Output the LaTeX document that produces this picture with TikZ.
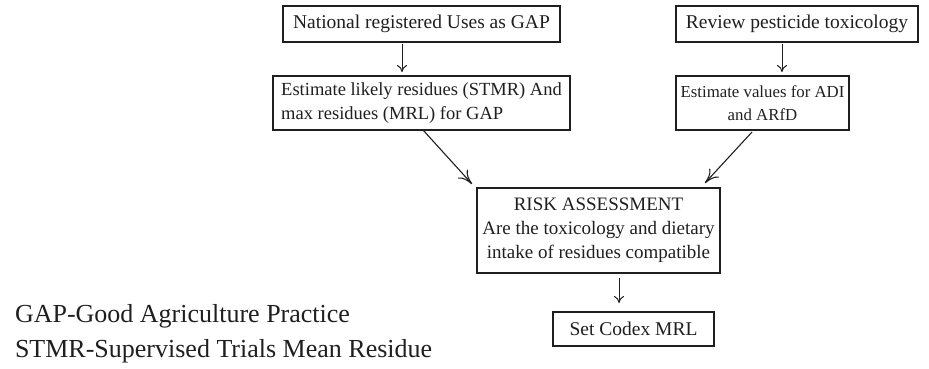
\documentclass[tikz,border=0pt]{standalone}
\usepackage{fontspec}
\setmainfont{Liberation Serif}
\usetikzlibrary{arrows.meta}
\definecolor{ink}{gray}{0.12}
\tikzstyle{base}=[x=1pt, y=-1pt, inner sep=0pt, outer sep=0pt]
\tikzstyle{box}=[draw=ink, line width=1.2pt, align=center, text=ink, font=\fontsize{19.5}{23.5}\selectfont]
\tikzstyle{link}=[-{To[length=7pt,width=10pt]}, ink, line width=1pt]
\tikzstyle{slant}=[-{To[length=14pt,width=13pt]}, ink, line width=1.1pt]
\tikzstyle{note}=[anchor=base west, text=ink, font=\fontsize{26}{30}\selectfont]

\begin{document}
\begin{tikzpicture}[base]
    \path [use as bounding box] (0,0) rectangle (929,368);
    % boxes
    \node [box, minimum width=277pt, minimum height=36pt] (nat) at (421.5,24) {National registered Uses as GAP};
    \node [box, minimum width=297pt, minimum height=54pt, align=left, font=\fontsize{18.5}{24}\selectfont] (est) at (421.5,103) {Estimate likely residues (STMR) And\\max residues (MRL) for GAP};
    \node [box, minimum width=242pt, minimum height=36pt] (rev) at (797,24) {Review pesticide toxicology};
    \node [box, minimum width=173pt, minimum height=54pt, font=\fontsize{16.8}{23}\selectfont] (val) at (762.5,103) {Estimate values for ADI\\and ARfD};
    \node [box, minimum width=243pt, minimum height=85pt, font=\fontsize{19}{24}\selectfont] (risk) at (598.5,230.5) {RISK ASSESSMENT\\Are the toxicology and dietary\\intake of residues compatible};
    \node [box, minimum width=161pt, minimum height=34pt] (codex) at (633.5,329) {Set Codex MRL};
    % legend
    \node [note] (gapnote) at (15,322) {GAP-Good Agriculture Practice};
    \node [note] (stmrnote) at (15,357) {STMR-Supervised Trials Mean Residue};
    % arrows
    \coordinate (a1) at ([xshift=-19.5pt]nat.south);
    \coordinate (a2) at ([xshift=-15pt]rev.south);
    \coordinate (a3) at ([xshift=20.5pt]risk.south);
    \draw [link, shorten <=2pt, shorten >=4pt] (a1) -- (a1 |- est.north);
    \draw [link, shorten <=2pt, shorten >=4pt] (a2) -- (a2 |- val.north);
    \draw [link, shorten <=5pt, shorten >=9pt] (a3) -- (a3 |- codex.north);
    \draw [slant] ([xshift=1.5pt]est.south) -- ([xshift=-5pt,yshift=4pt]risk.north west);
    \draw [slant] ([xshift=-10.5pt,yshift=-2pt]val.south) -- ([xshift=-15pt,yshift=5pt]risk.north east);
\end{tikzpicture}
\end{document}
